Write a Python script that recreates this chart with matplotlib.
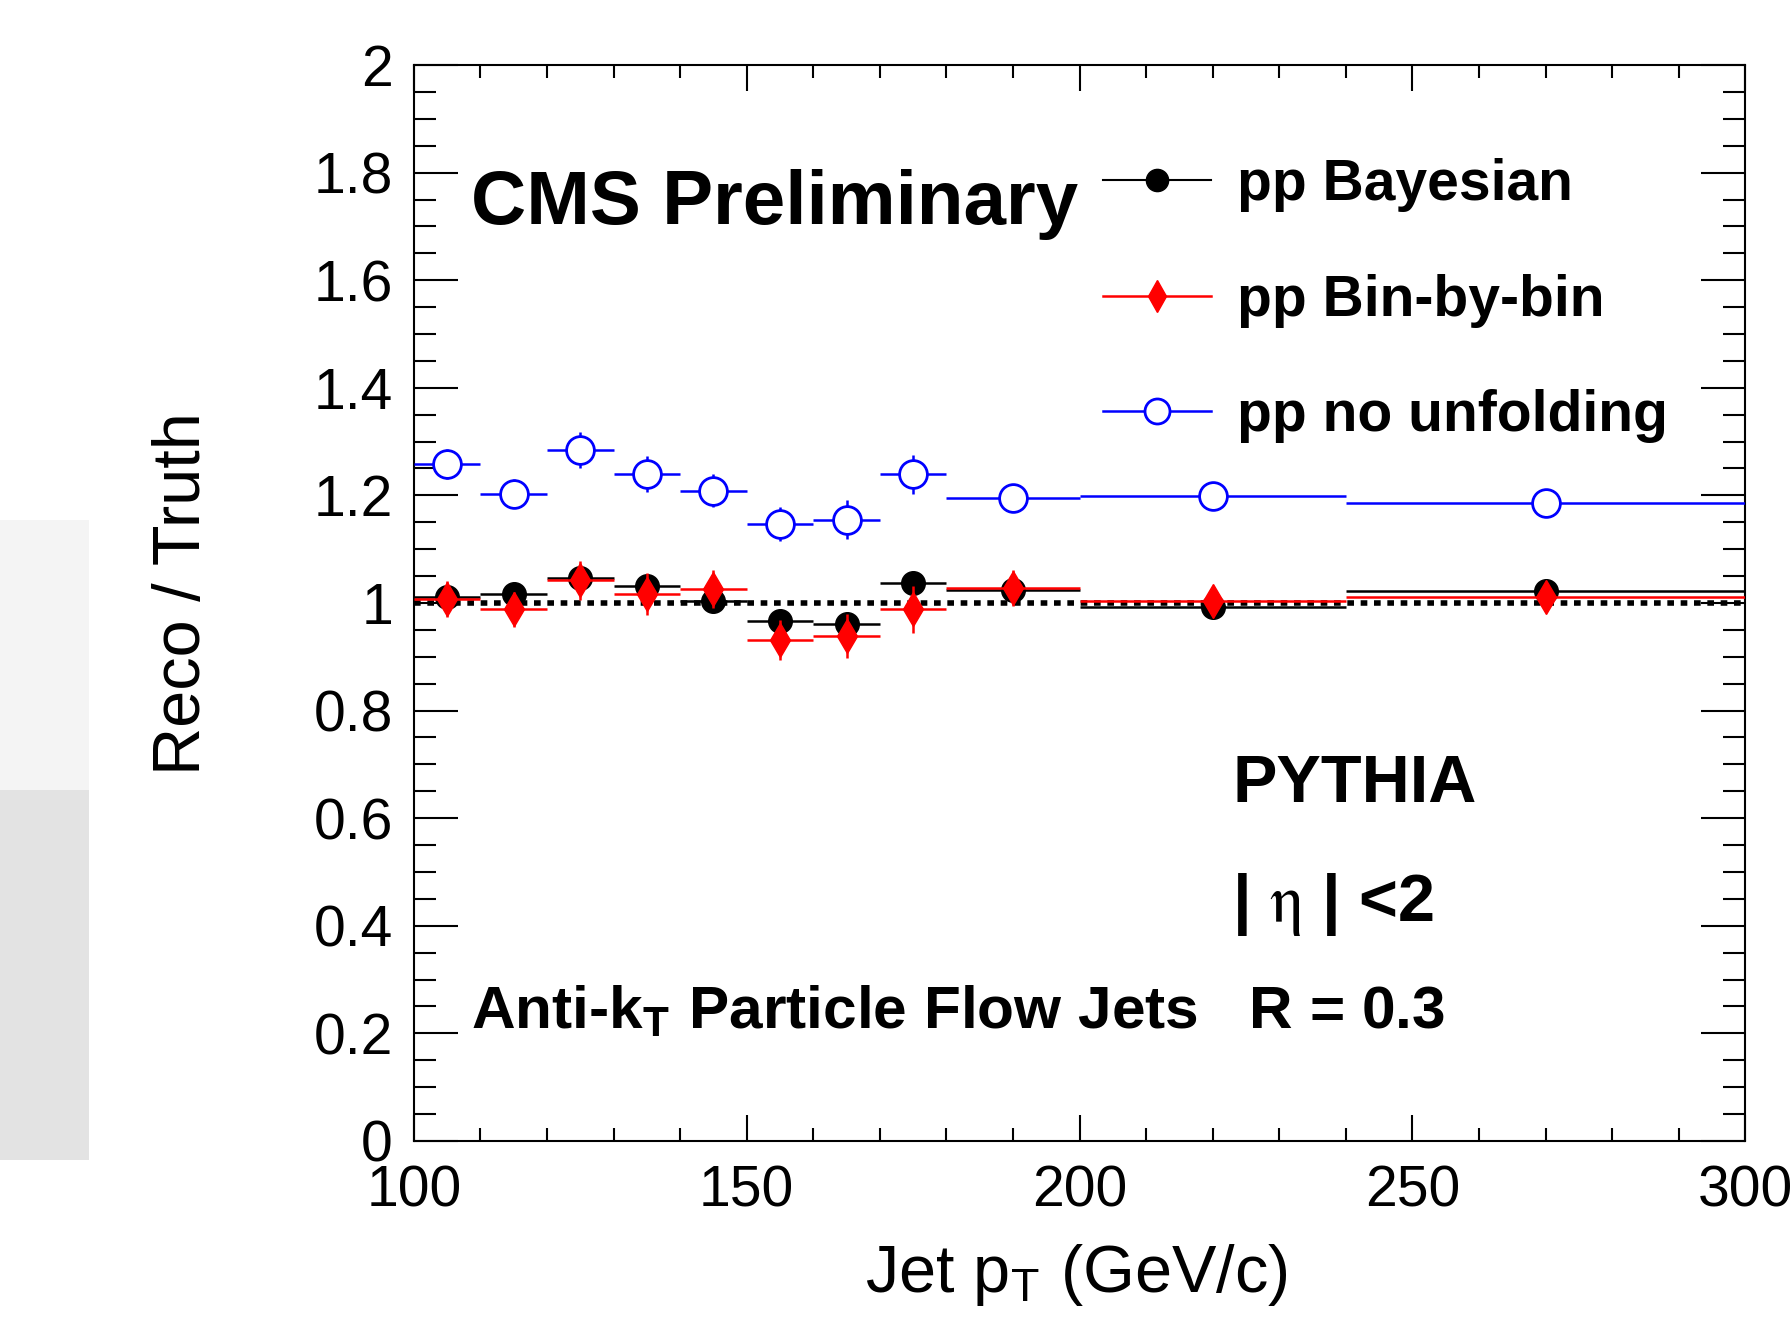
import numpy as np
import matplotlib
matplotlib.use("Agg")
import matplotlib.pyplot as plt
from matplotlib.lines import Line2D
from matplotlib.patches import Rectangle
from matplotlib.ticker import MultipleLocator

plt.rcParams['font.family'] = ['Liberation Sans', 'DejaVu Sans']
plt.rcParams['mathtext.fontset'] = 'stix'

# jet pT bin edges (GeV/c)
bin_edges = [100, 110, 120, 130, 140, 150, 160, 170, 180, 200, 240, 300]

# Reco / Truth ratios
bayes = [1.012, 1.017, 1.046, 1.031, 1.003, 0.966, 0.961, 1.038, 1.025, 0.993, 1.022]
bayes_err = [0.012, 0.012, 0.012, 0.012, 0.012, 0.012, 0.012, 0.012, 0.012, 0.010, 0.010]
binbybin = [1.007, 0.988, 1.042, 1.017, 1.026, 0.931, 0.939, 0.988, 1.028, 1.003, 1.012]
binbybin_err = [0.033, 0.033, 0.036, 0.039, 0.036, 0.037, 0.041, 0.043, 0.033, 0.025, 0.025]
nounfold = [1.258, 1.203, 1.284, 1.240, 1.209, 1.147, 1.155, 1.239, 1.195, 1.199, 1.186]
nounfold_err = [0.028, 0.027, 0.033, 0.034, 0.030, 0.032, 0.036, 0.037, 0.025, 0.012, 0.012]

edges = np.array(bin_edges)
centers = 0.5 * (edges[1:] + edges[:-1])
halfw = 0.5 * (edges[1:] - edges[:-1])

fig = plt.figure(figsize=(17.92, 13.19), dpi=100)
ax = fig.add_axes([0.2309, 0.135, 0.7431, 0.8157])

# scanned page edge on the left
fig.add_artist(Rectangle((0, 1 - 790 / 1319), 89 / 1792, 270 / 1319,
                         transform=fig.transFigure, color='#f4f4f4', lw=0, zorder=-5))
fig.add_artist(Rectangle((0, 1 - 1160 / 1319), 89 / 1792, 370 / 1319,
                         transform=fig.transFigure, color='#e3e3e3', lw=0, zorder=-5))

ax.plot([100, 300], [1, 1], color='black', lw=4, ls=(0, (1.2, 1.2)), zorder=1)

ax.errorbar(centers, bayes, xerr=halfw, yerr=bayes_err, fmt='o', color='black',
            ms=17, elinewidth=1.8, capsize=0, zorder=2)
ax.errorbar(centers, binbybin, xerr=halfw, yerr=binbybin_err, fmt='d', color='red',
            ms=17, elinewidth=1.8, capsize=0, zorder=3)
ax.errorbar(centers, nounfold, xerr=halfw, yerr=nounfold_err, fmt='o', color='blue',
            mfc='white', mec='blue', mew=2, ms=20, elinewidth=1.8, capsize=0, zorder=4)

ax.set_xlim(100, 300)
ax.set_ylim(0, 2)
ax.xaxis.set_major_locator(MultipleLocator(50))
ax.xaxis.set_minor_locator(MultipleLocator(10))
ax.yaxis.set_minor_locator(MultipleLocator(0.05))
ax.set_yticks(np.arange(0, 2.01, 0.2))
ax.set_yticklabels(['0', '0.2', '0.4', '0.6', '0.8', '1', '1.2', '1.4', '1.6', '1.8', '2'])
ax.tick_params(axis='both', which='both', direction='in', top=True, right=True,
               width=1.5, labelsize=41)
ax.tick_params(axis='y', which='major', length=32, pad=15)
ax.tick_params(axis='y', which='minor', length=16)
ax.tick_params(axis='x', which='major', length=19, pad=17)
ax.tick_params(axis='x', which='minor', length=9.5)
for s in ax.spines.values():
    s.set_linewidth(1.5)

fig.text(0.1021, 0.5497, 'Reco / Truth', rotation=90, ha='center', va='center', fontsize=48)
fig.text(0.6004, 0.033, r'Jet p$_\mathregular{T}$ (GeV/c)', ha='center', va='center', fontsize=48)

fig.text(471 / 1792, 1 - 204 / 1319, 'CMS Preliminary', fontsize=55, fontweight='bold',
         ha='left', va='center')
fig.text(1232 / 1792, 1 - 785 / 1319, 'PYTHIA', fontsize=48, fontweight='bold',
         ha='left', va='center')
fig.text(1232 / 1792, 1 - 905 / 1319, r'| $\mathrm{\eta}$ | <2', fontsize=48, fontweight='bold',
         ha='left', va='center')
fig.text(471 / 1792, 1 - 1013 / 1319, r'Anti-k$_\mathregular{T}$ Particle Flow Jets   R = 0.3',
         fontsize=43.5, fontweight='bold', ha='left', va='center')

handles = [
    Line2D([], [], color='black', marker='o', ms=16, lw=1.5),
    Line2D([], [], color='red', marker='d', ms=16, lw=1.8),
    Line2D([], [], color='blue', marker='o', mfc='white', mec='blue', mew=2, ms=18, lw=1.8),
]
labels = ['pp Bayesian', 'pp Bin-by-bin', 'pp no unfolding']
leg = fig.legend(handles, labels, loc='upper left', bbox_to_anchor=(1103 / 1792, 1 - 158 / 1319),
                 frameon=False, prop={'weight': 'bold', 'size': 41}, handlelength=1.9,
                 handletextpad=0.46, labelspacing=1.08, borderpad=0, borderaxespad=0)

fig.savefig('out.png', dpi=100)
